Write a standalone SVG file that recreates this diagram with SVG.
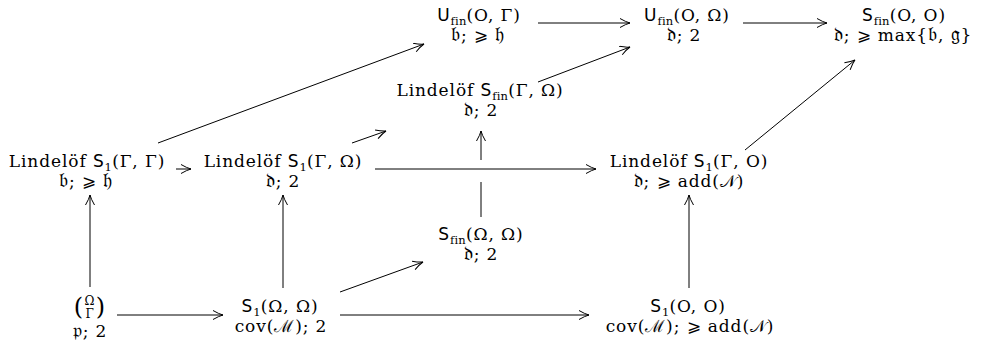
<svg xmlns="http://www.w3.org/2000/svg" width="981" height="347" viewBox="0 0 981 347">
<style>
.t{font-family:"DejaVu Serif","Liberation Serif",serif;font-size:17px;letter-spacing:0.9px;fill:#000;text-anchor:middle}
.sf{font-family:"DejaVu Sans","Liberation Sans",sans-serif}
.sub{font-size:11.5px;letter-spacing:0.2px}
.fk{font-size:20px}
.sm{font-size:12px}
.bp{font-size:24px}
.c line{stroke:#000;stroke-width:1;fill:none}
.a{marker-end:url(#ah)}
</style>
<defs>
<marker id="ah" markerWidth="12" markerHeight="10" viewBox="-11 -5 12 10" refX="0" refY="0" orient="auto" markerUnits="userSpaceOnUse">
<path d="M-10,-4.5 Q-4,-1 0,0 Q-4,1 -10,4.5" fill="none" stroke="#000" stroke-width="1"/>
</marker>
</defs>
<rect width="981" height="347" fill="#fff"/>
<g id="connectors" class="c">
<line class="a" x1="538" y1="23" x2="630" y2="23"/>
<line class="a" x1="743" y1="23" x2="827" y2="23"/>
<line class="a" x1="158" y1="143" x2="424" y2="44"/>
<line class="a" x1="538" y1="82" x2="630" y2="47"/>
<line class="a" x1="745" y1="150" x2="855" y2="60"/>
<line class="a" x1="176" y1="169" x2="191" y2="169"/>
<line class="a" x1="352" y1="143" x2="386" y2="131"/>
<line class="a" x1="375" y1="169" x2="596" y2="169"/>
<line x1="481" y1="217" x2="481" y2="182"/>
<line class="a" x1="481" y1="160" x2="481" y2="131"/>
<line class="a" x1="90" y1="287" x2="90" y2="195"/>
<line class="a" x1="283" y1="288" x2="283" y2="195"/>
<line class="a" x1="689" y1="288" x2="689" y2="195"/>
<line class="a" x1="340" y1="292" x2="423" y2="262"/>
<line class="a" x1="117" y1="315" x2="223" y2="315"/>
<line class="a" x1="340" y1="315" x2="589" y2="315"/>
</g>
<g id="n-ufin-og">
<text class="t"><tspan x="479" y="21"><tspan class="sf">U</tspan><tspan class="sub" dy="4">fin</tspan><tspan dy="-4">(O, Γ)</tspan></tspan><tspan x="478" y="41"><tspan class="fk">𝔟</tspan>; ⩾ <tspan class="fk">𝔥</tspan></tspan></text>
</g>
<g id="n-ufin-oo">
<text class="t"><tspan x="687" y="21"><tspan class="sf">U</tspan><tspan class="sub" dy="4">fin</tspan><tspan dy="-4">(O, Ω)</tspan></tspan><tspan x="684" y="41"><tspan class="fk">𝔡</tspan>; 2</tspan></text>
</g>
<g id="n-sfin-oo">
<text class="t"><tspan x="904" y="21"><tspan class="sf">S</tspan><tspan class="sub" dy="4">fin</tspan><tspan dy="-4">(O, O)</tspan></tspan><tspan x="903" y="41"><tspan class="fk">𝔡</tspan>; ⩾ max{<tspan class="fk">𝔟</tspan>, <tspan class="fk">𝔤</tspan>}</tspan></text>
</g>
<g id="n-lsfin-go">
<text class="t"><tspan x="480" y="96">Lindelöf <tspan class="sf">S</tspan><tspan class="sub" dy="4">fin</tspan><tspan dy="-4">(Γ, Ω)</tspan></tspan><tspan x="481" y="116"><tspan class="fk">𝔡</tspan>; 2</tspan></text>
</g>
<g id="n-ls1-gg">
<text class="t"><tspan x="87" y="167">Lindelöf <tspan class="sf">S</tspan><tspan class="sub" dy="4">1</tspan><tspan dy="-4">(Γ, Γ)</tspan></tspan><tspan x="86" y="187"><tspan class="fk">𝔟</tspan>; ⩾ <tspan class="fk">𝔥</tspan></tspan></text>
</g>
<g id="n-ls1-go">
<text class="t"><tspan x="283" y="167">Lindelöf <tspan class="sf">S</tspan><tspan class="sub" dy="4">1</tspan><tspan dy="-4">(Γ, Ω)</tspan></tspan><tspan x="283" y="187"><tspan class="fk">𝔡</tspan>; 2</tspan></text>
</g>
<g id="n-ls1-gO">
<text class="t"><tspan x="689" y="167">Lindelöf <tspan class="sf">S</tspan><tspan class="sub" dy="4">1</tspan><tspan dy="-4">(Γ, O)</tspan></tspan><tspan x="689" y="187"><tspan class="fk">𝔡</tspan>; ⩾ add(𝒩)</tspan></text>
</g>
<g id="n-sfin-ww">
<text class="t"><tspan x="481" y="240"><tspan class="sf">S</tspan><tspan class="sub" dy="4">fin</tspan><tspan dy="-4">(Ω, Ω)</tspan></tspan><tspan x="481" y="260"><tspan class="fk">𝔡</tspan>; 2</tspan></text>
</g>
<g id="n-binom">
<text class="t"><tspan class="bp" x="79" y="315">(</tspan><tspan class="sm" x="90" y="305">Ω</tspan><tspan class="sm" x="90" y="318">Γ</tspan><tspan class="bp" x="101" y="315">)</tspan><tspan x="90" y="337"><tspan class="fk">𝔭</tspan>; 2</tspan></text>
</g>
<g id="n-s1-ww">
<text class="t"><tspan x="280" y="312"><tspan class="sf">S</tspan><tspan class="sub" dy="4">1</tspan><tspan dy="-4">(Ω, Ω)</tspan></tspan><tspan x="281" y="332">cov(ℳ); 2</tspan></text>
</g>
<g id="n-s1-oo">
<text class="t"><tspan x="688" y="312"><tspan class="sf">S</tspan><tspan class="sub" dy="4">1</tspan><tspan dy="-4">(O, O)</tspan></tspan><tspan x="690" y="332">cov(ℳ); ⩾ add(𝒩)</tspan></text>
</g>
</svg>
